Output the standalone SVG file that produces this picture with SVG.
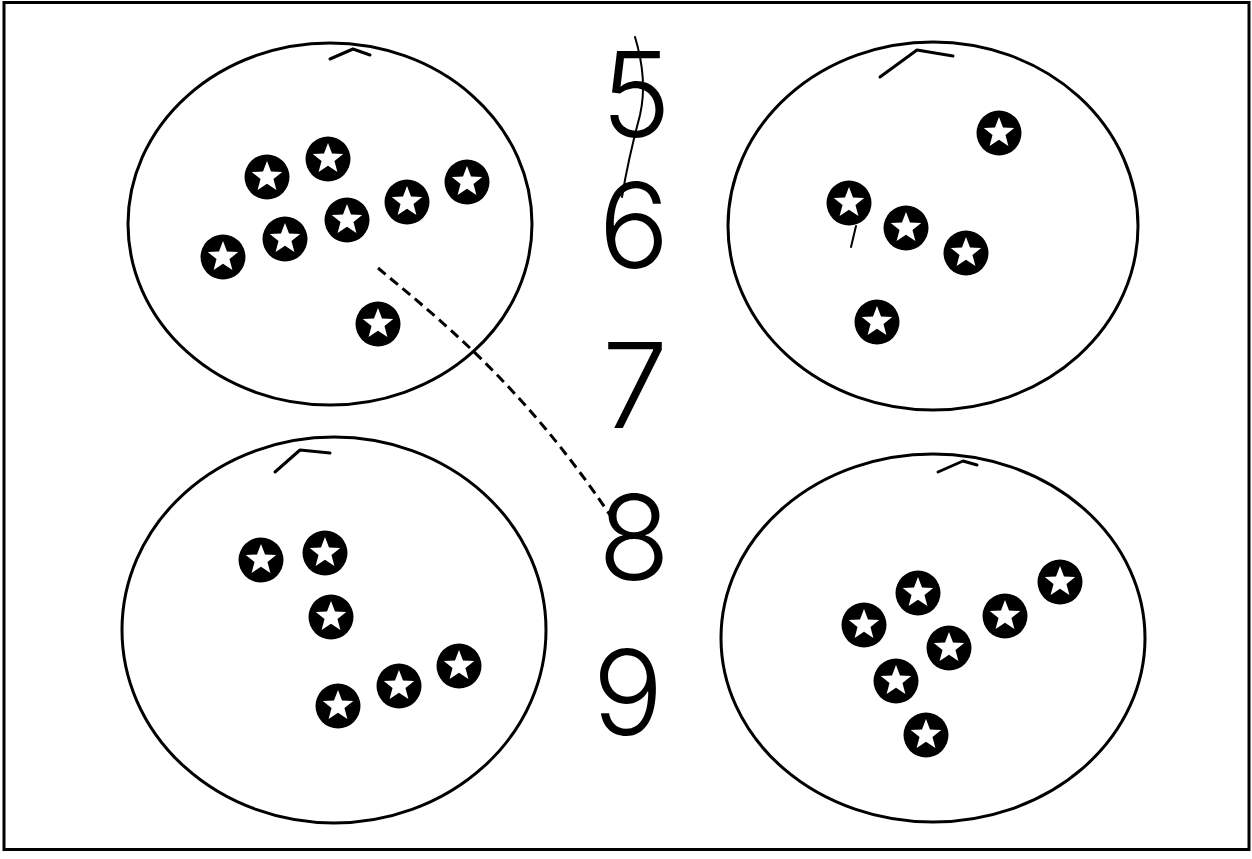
<svg xmlns="http://www.w3.org/2000/svg" xmlns:xlink="http://www.w3.org/1999/xlink" width="1252" height="859" viewBox="0 0 1252 859">
<style>
.ring{fill:none;stroke:#000;stroke-width:3}
.tick{fill:none;stroke:#000;stroke-width:3;stroke-linecap:round;stroke-linejoin:round}
.num{font-family:Inter,"Liberation Sans",sans-serif;font-weight:300;font-size:118px;fill:#000;text-anchor:middle}
.dash{fill:none;stroke:#000;stroke-width:3;stroke-dasharray:10 6}
.pen{fill:none;stroke:#000;stroke-width:2;stroke-linecap:round}
</style>
<defs>
<g id="star">
<circle r="22.5" fill="#000"/>
<path fill="#fff" d="M0,-16 L4,-5.5 L15.22,-4.94 L6.47,2.1 L9.4,12.94 L0,6.8 L-9.4,12.94 L-6.47,2.1 L-15.22,-4.94 L-4,-5.5 Z"/>
</g>
</defs>
<rect width="1252" height="859" fill="#fff"/>
<rect x="4" y="2.5" width="1245" height="847" fill="none" stroke="#000" stroke-width="3"/>

<g id="set-top-left">
<ellipse class="ring" cx="330" cy="224" rx="202" ry="181"/>
<path class="tick" d="M330,59 L353,49 L370,55"/>
<use xlink:href="#star" x="267" y="177"/>
<use xlink:href="#star" x="328" y="159"/>
<use xlink:href="#star" x="223" y="257"/>
<use xlink:href="#star" x="285" y="239"/>
<use xlink:href="#star" x="347" y="220"/>
<use xlink:href="#star" x="407" y="202"/>
<use xlink:href="#star" x="467" y="182"/>
<use xlink:href="#star" x="378" y="324"/>
</g>

<g id="set-top-right">
<ellipse class="ring" cx="933" cy="226" rx="205" ry="184"/>
<path class="tick" d="M880,77 L917,50 L953,56"/>
<use xlink:href="#star" x="999" y="133"/>
<use xlink:href="#star" x="849" y="203"/>
<use xlink:href="#star" x="906" y="228"/>
<use xlink:href="#star" x="966" y="253"/>
<use xlink:href="#star" x="877" y="322"/>
<path class="pen" d="M856,226 L851,247"/>
</g>

<g id="set-bottom-left">
<ellipse class="ring" cx="334" cy="630" rx="212" ry="193"/>
<path class="tick" d="M275,472 L300,450 L330,453"/>
<use xlink:href="#star" x="261" y="560"/>
<use xlink:href="#star" x="325" y="553"/>
<use xlink:href="#star" x="331" y="617"/>
<use xlink:href="#star" x="459" y="666"/>
<use xlink:href="#star" x="399" y="686"/>
<use xlink:href="#star" x="338" y="706"/>
</g>

<g id="set-bottom-right">
<ellipse class="ring" cx="933" cy="638" rx="212" ry="184"/>
<path class="tick" d="M938,472 L963,461 L977,465"/>
<use xlink:href="#star" x="918" y="593"/>
<use xlink:href="#star" x="864" y="625"/>
<use xlink:href="#star" x="949" y="648"/>
<use xlink:href="#star" x="1005" y="616"/>
<use xlink:href="#star" x="1060" y="582"/>
<use xlink:href="#star" x="896" y="681"/>
<use xlink:href="#star" x="926" y="735"/>
</g>

<g id="num-5"><text class="num" x="636" y="137">5</text></g>
<g id="num-6"><text class="num" x="634" y="268">6</text></g>
<g id="num-7"><text class="num" x="635" y="428">7</text></g>
<g id="num-8"><text class="num" x="634" y="580">8</text></g>
<g id="num-9"><text class="num" x="628" y="735">9</text></g>

<g id="connectors">
<path class="dash" d="M378,268 C430,312 520,380 612,518"/>
<path class="pen" d="M635,37 Q648,80 640,115 Q628,160 622,197"/>
</g>
</svg>
